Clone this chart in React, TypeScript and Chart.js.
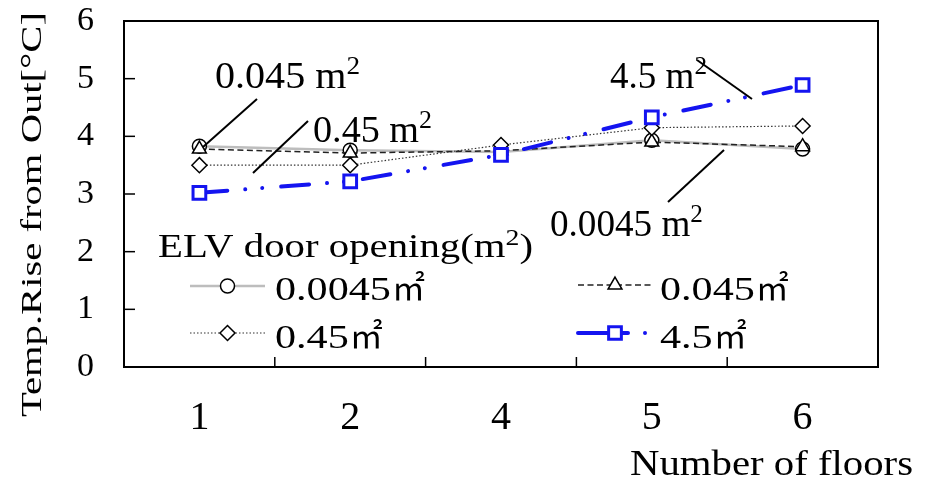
import React, { useEffect, useRef } from "react";
import { Chart, registerables } from "chart.js";

Chart.register(...registerables);

// ---- data ----
const floors = ["1", "2", "4", "5", "6"];
const open0045 = [3.83, 3.76, 3.73, 3.93, 3.78];
const open045 = [3.78, 3.71, 3.75, 3.9, 3.82];
const open045b = [3.5, 3.5, 3.85, 4.15, 4.18];
const open4_5 = [3.02, 3.22, 3.68, 4.33, 4.89];
const yTickValues = [0, 1, 2, 3, 4, 5, 6];
const legendNames = ["0.0045", "0.045", "0.45", "4.5"];
const annotationNames = ["0.045 m", "0.45 m", "4.5 m", "0.0045 m"];
const legendTitle = "ELV door opening(m";
const yTitle = "Temp.Rise from Out[°C]";
const xTitle = "Number of floors";

const SERIF = '"Liberation Serif", "Times New Roman", serif';
const CJK = '"Noto Sans CJK JP", "Noto Sans", sans-serif';

type Part = { t: string; sup?: boolean; font?: string };

function drawRich(
  ctx: CanvasRenderingContext2D,
  parts: Part[],
  x: number,
  y: number,
  size: number,
  targetW?: number
) {
  const supSize = size * 0.68;
  const widths = parts.map((p) => {
    ctx.font = `${p.sup ? supSize : size}px ${p.font || SERIF}`;
    return ctx.measureText(p.t).width;
  });
  const total = widths.reduce((a, b) => a + b, 0);
  const sx = targetW ? targetW / total : 1;
  ctx.save();
  ctx.translate(x, y);
  ctx.scale(sx, 1);
  ctx.fillStyle = "#000";
  ctx.textAlign = "left";
  ctx.textBaseline = "alphabetic";
  let cx = 0;
  parts.forEach((p, i) => {
    ctx.font = `${p.sup ? supSize : size}px ${p.font || SERIF}`;
    ctx.fillText(p.t, cx, p.sup ? -size * 0.36 : 0);
    cx += widths[i];
  });
  ctx.restore();
}

function drawMarker(
  ctx: CanvasRenderingContext2D,
  style: string,
  x: number,
  y: number,
  r: number,
  color: string,
  lw: number
) {
  ctx.save();
  ctx.setLineDash([]);
  ctx.beginPath();
  if (style === "circle") {
    ctx.arc(x, y, r, 0, Math.PI * 2);
  } else if (style === "triangle") {
    const h = (r * 3) / Math.sqrt(3);
    ctx.moveTo(x, y - r);
    ctx.lineTo(x + h / 2, y + r / 2);
    ctx.lineTo(x - h / 2, y + r / 2);
    ctx.closePath();
  } else if (style === "rectRot") {
    ctx.moveTo(x - r, y);
    ctx.lineTo(x, y - r);
    ctx.lineTo(x + r, y);
    ctx.lineTo(x, y + r);
    ctx.closePath();
  } else {
    const s = r * Math.SQRT1_2;
    ctx.rect(x - s, y - s, 2 * s, 2 * s);
  }
  ctx.fillStyle = "#fff";
  ctx.fill();
  ctx.strokeStyle = color;
  ctx.lineWidth = lw;
  ctx.stroke();
  ctx.restore();
}

const overlayPlugin = {
  id: "overlay",
  afterDraw(chart: any) {
    const ctx: CanvasRenderingContext2D = chart.ctx;
    const { left, right, top, bottom } = chart.chartArea;
    const xs = chart.scales.x;
    const ys = chart.scales.y;

    ctx.save();
    // frame
    ctx.strokeStyle = "#000";
    ctx.lineWidth = 2;
    ctx.setLineDash([]);
    ctx.strokeRect(left, top, right - left, bottom - top);
    // inward ticks
    ctx.lineWidth = 1.5;
    yTickValues.forEach((v) => {
      const py = ys.getPixelForValue(v);
      ctx.beginPath();
      ctx.moveTo(left, py);
      ctx.lineTo(left + 11, py);
      ctx.stroke();
    });
    for (let i = 0; i < floors.length - 1; i++) {
      const px = (xs.getPixelForValue(i) + xs.getPixelForValue(i + 1)) / 2;
      ctx.beginPath();
      ctx.moveTo(px, bottom);
      ctx.lineTo(px, bottom - 10);
      ctx.stroke();
    }

    // annotation leader lines
    ctx.lineWidth = 2;
    const leaders = [
      [257, 99, 203, 147],
      [308, 121, 253, 173],
      [697, 60, 752, 99],
      [724, 150, 668, 202],
    ];
    leaders.forEach(([x1, y1, x2, y2]) => {
      ctx.beginPath();
      ctx.moveTo(x1, y1);
      ctx.lineTo(x2, y2);
      ctx.stroke();
    });
    // annotation texts
    const annPos = [
      [215, 88, 145],
      [313, 142, 119],
      [610, 88, 97],
      [550, 236, 153],
    ];
    annotationNames.forEach((t, i) => {
      const [ax, ay, w] = annPos[i];
      drawRich(ctx, [{ t }, { t: "2", sup: true }], ax, ay, 38, w);
    });

    // legend title
    drawRich(
      ctx,
      [{ t: legendTitle }, { t: "2", sup: true }, { t: ")" }],
      158,
      257,
      33,
      375
    );

    // legend entries
    const ds = chart.data.datasets;
    const legendPos = [
      [190, 265, 286, 275, 300],
      [578, 652, 285, 660, 300],
      [190, 265, 333, 275, 348],
      [578, 650, 333, 660, 348],
    ];
    legendNames.forEach((name, i) => {
      const d = ds[i];
      const [x1, x2, ly, tx, tb] = legendPos[i];
      ctx.save();
      ctx.strokeStyle = d.borderColor;
      ctx.lineWidth = d.borderWidth;
      ctx.lineCap = d.borderCapStyle || "butt";
      ctx.setLineDash(i === 3 ? [50, 17, 0.001, 100] : d.borderDash || []);
      ctx.beginPath();
      ctx.moveTo(x1, ly);
      ctx.lineTo(x2, ly);
      ctx.stroke();
      ctx.restore();
      drawMarker(
        ctx,
        d.pointStyle,
        i === 3 ? 615 : (x1 + x2) / 2,
        ly,
        d.pointRadius,
        d.pointBorderColor,
        d.pointBorderWidth
      );
      ctx.save();
      ctx.font = `34px ${SERIF}`;
      const w = ctx.measureText(name).width * 1.24;
      ctx.restore();
      drawRich(ctx, [{ t: name }], tx, tb, 34, w);
      drawRich(ctx, [{ t: "㎡", font: CJK }], tx + w + 1, tb, 33);
    });

    // axis titles
    drawRich(ctx, [{ t: xTitle }], 630, 475, 35, 283);
    ctx.save();
    ctx.translate(41, 417);
    ctx.rotate(-Math.PI / 2);
    drawRich(ctx, [{ t: yTitle }], 0, 0, 30, 405);
    ctx.restore();

    ctx.restore();
  },
};

function zeroPad(scale: any) {
  scale.paddingTop = 0;
  scale.paddingBottom = 0;
  scale.paddingLeft = 0;
  scale.paddingRight = 0;
}

export default function App() {
  const ref = useRef<HTMLCanvasElement | null>(null);

  useEffect(() => {
    if (!ref.current) return;
    const chart = new Chart(ref.current, {
      type: "line",
      data: {
        labels: floors,
        datasets: [
          {
            label: legendNames[0],
            data: open0045,
            borderColor: "#bdbdbd",
            borderWidth: 2.5,
            pointStyle: "circle",
            pointRadius: 7,
            pointBorderColor: "#000",
            pointBorderWidth: 1.5,
            pointBackgroundColor: "#fff",
            order: 4,
          } as any,
          {
            label: legendNames[1],
            data: open045,
            borderColor: "#222",
            borderWidth: 1.5,
            borderDash: [6, 3.5],
            pointStyle: "triangle",
            pointRadius: 8,
            pointBorderColor: "#000",
            pointBorderWidth: 1.5,
            pointBackgroundColor: "#fff",
            order: 3,
          },
          {
            label: legendNames[2],
            data: open045b,
            borderColor: "#333",
            borderWidth: 1.2,
            borderDash: [1.5, 2],
            pointStyle: "rectRot",
            pointRadius: 7.5,
            pointBorderColor: "#000",
            pointBorderWidth: 1.5,
            pointBackgroundColor: "#fff",
            order: 2,
          },
          {
            label: legendNames[3],
            data: open4_5,
            borderColor: "#1414f0",
            borderWidth: 4,
            borderDash: [28, 18, 0.001, 17, 0.001, 19],
            borderCapStyle: "round",
            pointStyle: "rect",
            pointRadius: 9,
            pointBorderColor: "#1414f0",
            pointBorderWidth: 3,
            pointBackgroundColor: "#fff",
            order: 1,
          },
        ],
      },
      options: {
        responsive: false,
        animation: false,
        layout: { padding: { top: 21, right: 55, left: 0, bottom: 0 } },
        plugins: {
          legend: { display: false },
          title: { display: false },
          tooltip: { enabled: false },
        },
        elements: { line: { tension: 0, fill: false } },
        scales: {
          x: {
            type: "category",
            offset: true,
            grid: { display: false, drawTicks: false },
            border: { display: false },
            ticks: {
              color: "#000",
              font: { family: SERIF, size: 40 },
              padding: 27,
              maxRotation: 0,
            },
            afterFit(scale: any) {
              scale.height = 116;
              zeroPad(scale);
            },
          },
          y: {
            min: 0,
            max: 6,
            grid: { display: false, drawTicks: false },
            border: { display: false },
            ticks: {
              stepSize: 1,
              color: "#000",
              font: { family: SERIF, size: 34 },
              padding: 30,
            },
            afterFit(scale: any) {
              scale.width = 124;
              zeroPad(scale);
            },
          },
        },
      },
      plugins: [overlayPlugin],
    });
    return () => chart.destroy();
  }, []);

  return (
    <div style={{ position: "absolute", left: 0, top: 0, width: 933, height: 483, background: "#fff" }}>
      <canvas ref={ref} width={933} height={483} />
    </div>
  );
}
